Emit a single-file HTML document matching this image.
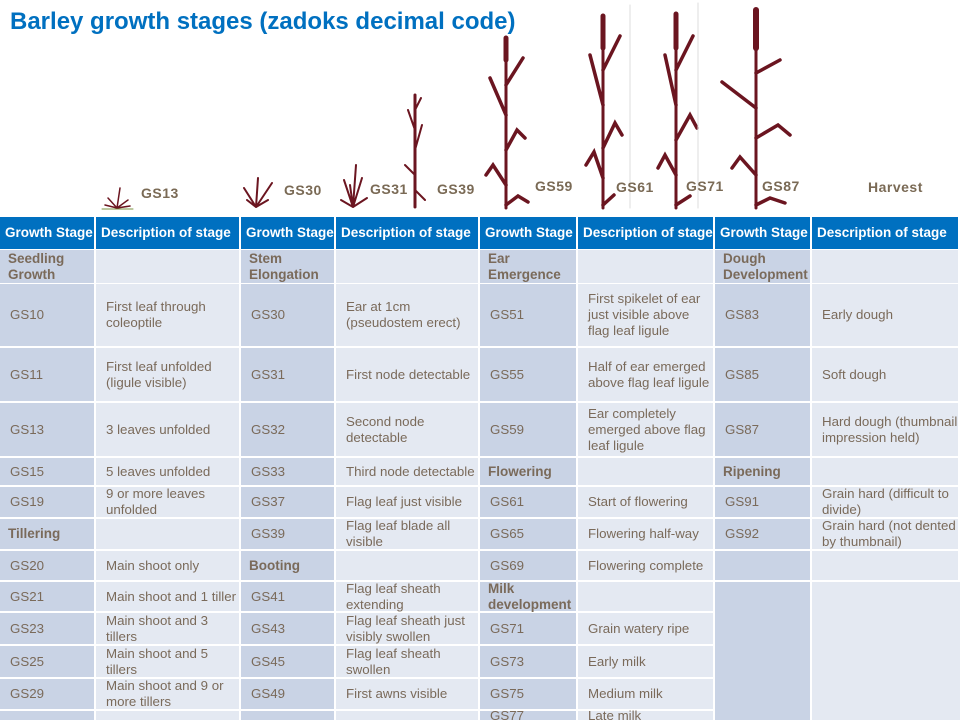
<!DOCTYPE html>
<html><head><meta charset="utf-8"><style>
body{margin:0;width:960px;height:720px;overflow:hidden;background:#fff;position:relative;font-family:"Liberation Sans",sans-serif}
.t{position:absolute;left:10px;top:8px;font-size:24px;font-weight:bold;color:#0070c0}
.l{position:absolute;font-size:14px;font-weight:bold;color:#7a6a55;letter-spacing:0.5px}
.c{position:absolute;box-sizing:border-box;font-size:13.3px;color:#7a6a5a;display:flex;align-items:center;padding-left:10px;line-height:16px}
.h{background:#0070c0;color:#fff;font-weight:bold;font-size:13.5px;padding-left:5px}
.d{background:#c9d3e5}.e{background:#e4e9f2}
.b{font-weight:bold;font-size:13.5px}
</style></head><body>
<div class="t">Barley growth stages (zadoks decimal code)</div>
<svg width="960" height="216" style="position:absolute;left:0;top:0" stroke="#6b1520" fill="none" stroke-linecap="round">
<line x1="102" y1="209" x2="133" y2="209" stroke="#7a9040" stroke-width="1"/>
<path d="M117 208 L120 188 M117 208 L108 198 M117 208 L128 200 M117 208 L105 205 M117 208 L130 206" stroke-width="1.5"/>
<path d="M256 207 L258 178 M256 207 L244 188 M256 207 L272 183 M256 207 L247 200 M256 207 L268 200" stroke-width="2"/>
<path d="M353 207 L356 165 M353 207 L344 180 M353 207 L362 178 M353 207 L341 200 M353 207 L367 198 M353 207 L350 185" stroke-width="2"/>
<path d="M415 207 L415 95" stroke-width="3"/><path d="M415 190 L425 200 M415 150 L422 125 M415 130 L408 110 M415 175 L405 165 M415 110 L421 98" stroke-width="2"/>
<g stroke-width="3"><line x1="506" y1="208" x2="506" y2="40"/><line x1="603" y1="208" x2="603" y2="18"/><line x1="676" y1="208" x2="676" y2="16"/><line x1="756" y1="208" x2="756" y2="12"/></g>
<g stroke-width="3.5"><path d="M506 85 L523 58 M506 115 L490 78 M506 150 L517 130 L525 138 M506 185 L493 165 L486 175 M506 205 L518 196 L528 202"/>
<path d="M603 70 L620 36 M603 105 L590 55 M603 148 L615 123 L622 135 M603 178 L594 152 L586 165 M603 205 L614 195"/>
<path d="M676 70 L693 36 M676 105 L665 55 M676 140 L690 115 L697 128 M676 175 L665 155 L658 168 M676 205 L690 196"/>
<path d="M756 73 L780 60 M756 108 L722 82 M756 138 L778 125 L790 135 M756 175 L740 157 L732 168 M756 205 L770 198 L785 203"/></g>
<g stroke-width="5"><line x1="506" y1="38" x2="506" y2="60"/><line x1="603" y1="16" x2="603" y2="48"/><line x1="676" y1="14" x2="676" y2="48"/><line x1="756" y1="10" x2="756" y2="48" stroke-width="6"/></g>
<line x1="630" y1="5" x2="630" y2="208" stroke="#ddd" stroke-width="1"/><line x1="698" y1="3" x2="698" y2="208" stroke="#ddd" stroke-width="1"/>
</svg>
<div class="l" style="left:141px;top:185px">GS13</div>
<div class="l" style="left:284px;top:182px">GS30</div>
<div class="l" style="left:370px;top:181px">GS31</div>
<div class="l" style="left:437px;top:181px">GS39</div>
<div class="l" style="left:535px;top:178px">GS59</div>
<div class="l" style="left:616px;top:179px">GS61</div>
<div class="l" style="left:686px;top:178px">GS71</div>
<div class="l" style="left:762px;top:178px">GS87</div>
<div class="l" style="left:868px;top:179px">Harvest</div>
<div id="tb"></div>
<script>
var X=[0,96,241,336,480,578,715,812,960];
var R=[[250,283],[284,346],[348,401],[403,456],[458,485],[487,517],[519,549],[551,580],[582,611],[613,644],[646,677],[679,709],[711,720]];
var G=[
[["Seedling Growth",""],["GS10","First leaf through coleoptile"],["GS11","First leaf unfolded (ligule visible)"],["GS13","3 leaves  unfolded"],["GS15","5 leaves  unfolded"],["GS19","9 or more leaves unfolded"],["Tillering",""],["GS20","Main shoot only"],["GS21","Main shoot and 1 tiller"],["GS23","Main shoot and 3 tillers"],["GS25","Main shoot and 5 tillers"],["GS29","Main shoot and 9 or more tillers"],["",""]],
[["Stem Elongation",""],["GS30","Ear at 1cm (pseudostem erect)"],["GS31","First node detectable"],["GS32","Second node detectable"],["GS33","Third node detectable"],["GS37","Flag leaf just visible"],["GS39","Flag leaf blade all visible"],["Booting",""],["GS41","Flag leaf sheath extending"],["GS43","Flag leaf sheath just visibly swollen"],["GS45","Flag leaf sheath swollen"],["GS49","First awns visible"],["",""]],
[["Ear Emergence",""],["GS51","First spikelet of ear just visible  above flag leaf ligule"],["GS55","Half of ear emerged above flag leaf ligule"],["GS59","Ear completely emerged above flag leaf ligule"],["Flowering",""],["GS61","Start of flowering"],["GS65","Flowering half-way"],["GS69","Flowering complete"],["Milk development",""],["GS71","Grain watery ripe"],["GS73","Early milk"],["GS75","Medium milk"],["GS77","Late milk"]],
[["Dough Development",""],["GS83","Early dough"],["GS85","Soft dough"],["GS87","Hard dough (thumbnail impression held)"],["Ripening",""],["GS91","Grain hard (difficult to divide)"],["GS92","Grain hard (not dented by thumbnail)"],["",""]]];
var h='';
for(var i=0;i<8;i++){h+='<div class="c h" style="left:'+X[i]+'px;top:217px;width:'+(X[i+1]-X[i]-2)+'px;height:32px">'+(i%2?'Description  of stage':'Growth  Stage')+'</div>';}
for(var g=0;g<4;g++){var rows=G[g];for(var r=0;r<rows.length;r++){var y0=R[r][0],y1=(g==3&&r==7)?580:R[r][1];
var bold=rows[r][1]===''&&rows[r][0]!==''&&rows[r][0].indexOf('GS')!==0;
h+='<div class="c d'+(bold?' b':'')+'" style="left:'+X[2*g]+'px;top:'+y0+'px;width:'+(X[2*g+1]-X[2*g]-2)+'px;height:'+(y1-y0)+'px;'+(bold?'padding-left:8px':'')+'">'+rows[r][0]+'</div>';
h+='<div class="c e" style="left:'+X[2*g+1]+'px;top:'+y0+'px;width:'+(X[2*g+2]-X[2*g+1]-2)+'px;height:'+(y1-y0)+'px">'+rows[r][1]+'</div>';}}
h+='<div class="c d" style="left:715px;top:582px;width:95px;height:138px"></div><div class="c e" style="left:812px;top:582px;width:148px;height:138px"></div>';
document.getElementById('tb').innerHTML=h;
</script>
</body></html>
